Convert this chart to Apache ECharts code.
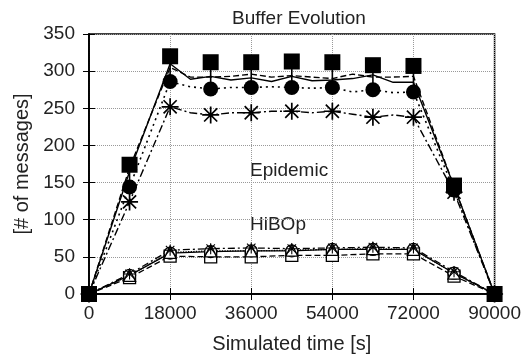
<!DOCTYPE html>
<html>
<head>
<meta charset="utf-8">
<script src="https://cdn.jsdelivr.net/npm/echarts@6/dist/echarts.min.js"></script>
<style>html,body{margin:0;padding:0;background:#fff}#c{width:524px;height:360px}</style>
</head>
<body>
<div id="c"></div>
<script>
// ---- data ----
const xTicks = [0, 18000, 36000, 54000, 72000, 90000];
const yTicks = [0, 50, 100, 150, 200, 250, 300, 350];
// Epidemic, detailed line samples
const epiTimes = [0, 9000, 18000, 22500, 27000, 31500, 36000, 40500, 45000, 49500, 54000, 58500, 63000, 67500, 72000, 81000, 90000];
const epiSolid  = [0, 165, 310, 289, 293, 288, 291, 286, 293, 287, 288, 290, 295, 285, 285, 145, 0];
const epiDashed = [0, 170, 305, 292, 292, 293, 296, 292, 294, 292, 290, 296, 292, 292, 293, 145, 0];
const epiDotted = [0, 144, 286, 279, 276, 278, 278, 279, 278, 277, 278, 272, 275, 271, 272, 140, 0];
const epiDashDot = [0, 124, 252, 244, 241, 244, 244, 246, 246, 244, 246, 242, 238, 241, 238, 137, 0];
// marker times
const markTimes = [0, 9000, 18000, 27000, 36000, 45000, 54000, 63000, 72000, 81000, 90000];
const epiSquares = [0, 174, 320, 312, 312, 313, 312, 308, 307, 146, 0];
// HiBOp
const hibSquare   = [0, 22, 51, 50, 50, 52, 52, 54, 54, 24, 0];
const hibCircle   = [0, 25, 55, 57, 58, 58, 60, 60, 60, 28, 0];
const hibTriangle = [0, 25, 56, 58, 58, 59, 60, 61, 60, 28, 0];
const hibStar     = [0, 27, 59, 61, 62, 61, 62, 63, 62, 30, 0];
const labels = { epidemic: 'Epidemic', hibop: 'HiBOp' };

// ---- helpers ----
const pairs = (ts, vs) => ts.map((t, i) => [t, vs[i]]);
const atMarks = (sym) => (v) => (v[0] % 9000 === 0 ? sym : 'none');
const star = 'path://M9,0L11,0L11,20L9,20Z M0,9L20,9L20,11L0,11Z M1.6,3L3,1.6L18.4,17L17,18.4Z M17,1.6L18.4,3L3,18.4L1.6,17Z';
const font = 'Liberation Sans, Arial, Helvetica, sans-serif';

const stemData = [];
for (let i = 1; i < markTimes.length - 2; i++) {
  const t = markTimes[i];
  const j = epiTimes.indexOf(t);
  stemData.push([t, epiSquares[i], epiDotted[j]]);
}

const chart = echarts.init(document.getElementById('c'));
const blk = '#000';
const txt = '#222';
chart.setOption({
  animation: false,
  title: {
    text: 'Buffer Evolution', left: 294, textAlign: 'center', top: 4,
    textStyle: { fontFamily: font, fontSize: 19, fontWeight: 'normal', color: txt }
  },
  grid: { left: 89, right: 26, top: 34, bottom: 66, show: true, borderColor: blk, borderWidth: 1.5 },
  xAxis: [{
    type: 'value', min: 0, max: 90000, interval: 18000,
    name: 'Simulated time [s]', nameLocation: 'middle', nameGap: 40,
    nameTextStyle: { fontFamily: font, fontSize: 20, color: txt },
    axisLine: { show: true, lineStyle: { color: blk, width: 1.5 } },
    axisTick: { inside: true, length: 6, lineStyle: { color: blk } },
    axisLabel: { fontFamily: font, fontSize: 19, color: txt, margin: 10,
      formatter: v => (xTicks.includes(v) ? String(v) : '') },
    splitLine: { show: true, lineStyle: { color: '#999', type: 'dotted', width: 1 } }
  }, {
    type: 'value', min: 0, max: 90000, interval: 18000, position: 'top',
    axisLine: { show: true, lineStyle: { color: blk, width: 1.5 } },
    axisTick: { inside: true, length: 6, lineStyle: { color: blk } },
    axisLabel: { show: false }, splitLine: { show: false }
  }],
  yAxis: [{
    type: 'value', min: 0, max: 350, interval: 50,
    name: '[# of messages]', nameLocation: 'middle', nameGap: 56,
    nameTextStyle: { fontFamily: font, fontSize: 20, color: txt },
    axisLine: { show: true, lineStyle: { color: blk, width: 1.5 } },
    axisTick: { inside: true, length: 6, lineStyle: { color: blk } },
    axisLabel: { fontFamily: font, fontSize: 19, color: txt, margin: 14,
      formatter: v => (yTicks.includes(v) ? String(v) : '') },
    splitLine: { show: true, lineStyle: { color: '#999', type: 'dotted', width: 1 } }
  }, {
    type: 'value', min: 0, max: 350, interval: 50, position: 'right',
    axisLine: { show: true, lineStyle: { color: blk, width: 1.5 } },
    axisTick: { inside: true, length: 6, lineStyle: { color: blk } },
    axisLabel: { show: false }, splitLine: { show: false }
  }],
  graphic: [
    { type: 'text', left: 250, top: 161, style: { text: labels.epidemic, font: '19px ' + font, fill: txt } },
    { type: 'text', left: 250, top: 215, style: { text: labels.hibop, font: '19px ' + font, fill: txt } }
  ],
  series: [
    // HiBOp
    { type: 'line', data: pairs(markTimes, hibSquare), symbol: 'rect', symbolSize: 12,
      lineStyle: { color: blk, width: 1.3, type: [6, 3] },
      itemStyle: { color: '#fff', borderColor: blk, borderWidth: 1.3 }, z: 3 },
    { type: 'line', data: pairs(markTimes, hibCircle), symbol: 'circle', symbolSize: 12,
      lineStyle: { color: blk, width: 1.3, type: 'solid' },
      itemStyle: { color: '#fff', borderColor: blk, borderWidth: 1.3 }, z: 3 },
    { type: 'line', data: pairs(markTimes, hibTriangle), symbol: 'triangle', symbolSize: 12,
      lineStyle: { color: blk, width: 1.3, type: 'dotted' },
      itemStyle: { color: '#fff', borderColor: blk, borderWidth: 1.3 }, z: 3 },
    { type: 'line', data: pairs(markTimes, hibStar), symbol: star, symbolSize: 11,
      lineStyle: { color: blk, width: 1.3, type: [7, 3, 2, 3] },
      itemStyle: { color: blk }, z: 3 },
    // Epidemic
    { type: 'line', data: pairs(epiTimes, epiSolid), symbol: 'none',
      lineStyle: { color: blk, width: 1.4, type: 'solid' }, z: 4 },
    { type: 'line', data: pairs(epiTimes, epiDashed), symbol: 'none',
      lineStyle: { color: blk, width: 1.4, type: [6, 3] }, z: 4 },
    { type: 'line', data: pairs(epiTimes, epiDotted), symbol: atMarks('circle'), symbolSize: 15,
      lineStyle: { color: blk, width: 1.6, type: [2, 4] }, itemStyle: { color: blk }, z: 5 },
    { type: 'line', data: pairs(epiTimes, epiDashDot), symbol: atMarks(star), symbolSize: 17,
      lineStyle: { color: blk, width: 1.4, type: [8, 3, 2, 3] }, itemStyle: { color: blk }, z: 5 },
    { type: 'custom', data: stemData, z: 4,
      renderItem: (params, api) => {
        const a = api.coord([api.value(0), api.value(1)]);
        const b = api.coord([api.value(0), api.value(2)]);
        return { type: 'line', shape: { x1: a[0], y1: a[1], x2: b[0], y2: b[1] },
          style: { stroke: blk, lineWidth: 1.6 } };
      } },
    { type: 'scatter', data: pairs(markTimes, epiSquares), symbol: 'rect', symbolSize: 16,
      itemStyle: { color: blk, opacity: 1 }, z: 6 }
  ]
});
</script>
</body>
</html>
